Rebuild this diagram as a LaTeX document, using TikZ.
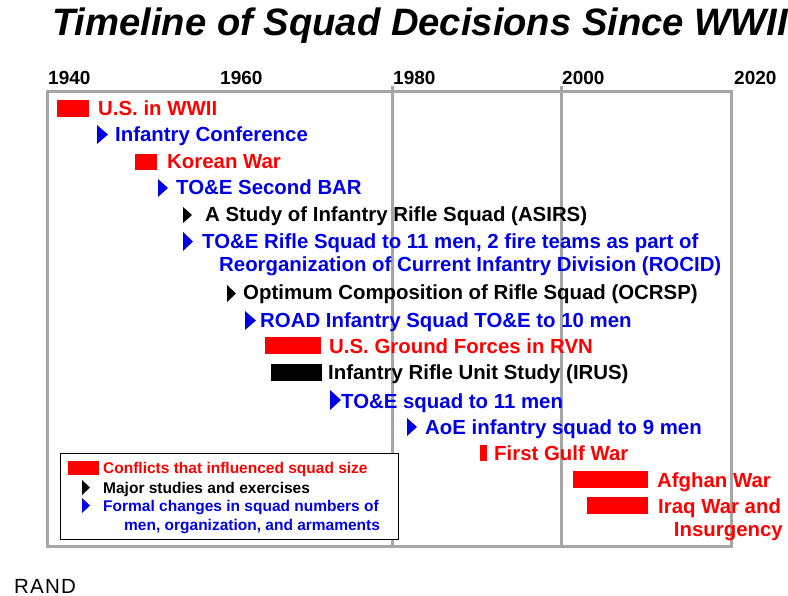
\documentclass[tikz,border=0pt]{standalone}
\usepackage{fontspec}
\setmainfont{Liberation Sans}
\definecolor{cred}{RGB}{255,0,0}
\definecolor{cblue}{RGB}{0,0,230}
\definecolor{cgray}{RGB}{166,166,166}
\newcommand{\tri}[5]{\fill[#5] (#1,#3) -- (#2,{(#3+#4)/2}) -- (#1,#4) -- cycle;}
\tikzset{
  item/.style={anchor=base west, inner sep=0pt, font=\fontsize{20.4}{23}\selectfont\bfseries},
  leg/.style={anchor=base west, inner sep=0pt, font=\fontsize{15.5}{19}\selectfont\bfseries},
  year/.style={anchor=base west, inner sep=0pt, font=\fontsize{19}{22}\selectfont\bfseries},
  framel/.style={draw=cgray, line width=3pt},
}
\begin{document}
\begin{tikzpicture}[x=1pt,y=-1pt]
\fill[white] (0,0) rectangle (788,596);
\useasboundingbox (0,0) rectangle (788,596);
% title
\node[anchor=base west, inner sep=0pt, font=\fontsize{38.2}{40}\selectfont\bfseries\itshape] (title) at (52,36) {Timeline of Squad Decisions Since WWII};
% frame
\draw[framel] (47,92) rectangle (731.5,546);
\draw[framel] (392,86) -- (392,546);
\draw[framel] (561.5,86) -- (561.5,546);
% years
\node[year] (y1940) at (48,85) {1940};
\node[year] (y1960) at (220,85) {1960};
\node[year] (y1980) at (393,85) {1980};
\node[year] (y2000) at (562,85) {2000};
\node[year] (y2020) at (734,85) {2020};
% rows
\fill[cred] (57,100) rectangle (89,117);
\node[item, text=cred] (r1) at (98,115.5) {U.S. in WWII};
\tri{97}{108}{125}{144}{cblue}
\node[item, text=cblue] (r2) at (115,142) {Infantry Conference};
\fill[cred] (135,154) rectangle (157,170);
\node[item, text=cred] (r3) at (167,169) {Korean War};
\tri{158}{168}{179}{197}{cblue}
\node[item, text=cblue] (r4) at (176,195) {TO\&E Second BAR};
\tri{183}{192}{207}{223}{black}
\node[item, text=black] (r5) at (205,222) {A Study of Infantry Rifle Squad (ASIRS)};
\tri{183}{193}{232}{251}{cblue}
\node[item, text=cblue] (r6a) at (202,249) {TO\&E Rifle Squad to 11 men, 2 fire teams as part of};
\node[item, text=cblue] (r6b) at (219,272) {Reorganization of Current Infantry Division (ROCID)};
\tri{227}{236}{285}{302}{black}
\node[item, text=black] (r7) at (243,300) {Optimum Composition of Rifle Squad (OCRSP)};
\tri{245}{256}{311}{330}{cblue}
\node[item, text=cblue] (r8) at (260,328) {ROAD Infantry Squad TO\&E to 10 men};
\fill[cred] (265,337) rectangle (321,354);
\node[item, text=cred] (r9) at (329,353) {U.S. Ground Forces in RVN};
\fill[black] (271,364) rectangle (322,381);
\node[item, text=black] (r10) at (328,380) {Infantry Rifle Unit Study (IRUS)};
\tri{330}{341}{390}{410}{cblue}
\node[item, text=cblue] (r11) at (341,408) {TO\&E squad to 11 men};
\tri{407}{417}{418}{436}{cblue}
\node[item, text=cblue] (r12) at (425,434) {AoE infantry squad to 9 men};
\fill[cred] (480,445) rectangle (487,461);
\node[item, text=cred] (r13) at (494,460) {First Gulf War};
\fill[cred] (573,471) rectangle (648,488);
\node[item, text=cred] (r14) at (657,487) {Afghan War};
\fill[cred] (587,497) rectangle (648,514);
\node[item, text=cred] (r15a) at (658,513) {Iraq War and};
\node[item, text=cred, anchor=base east] (r15b) at (783,536) {Insurgency};
% legend
\draw[black, line width=1pt, fill=white] (60,453) rectangle (398,539);
\fill[cred] (68,461) rectangle (99,475);
\node[leg, text=cred] (l1) at (103,473.5) {Conflicts that influenced squad size};
\tri{82}{90}{480}{495}{black}
\node[leg, text=black] (l2) at (103,493.5) {Major studies and exercises};
\tri{82}{90}{498}{513}{cblue}
\node[leg, text=cblue] (l3a) at (103,511.5) {Formal changes in squad numbers of};
\node[leg, text=cblue] (l3b) at (124,530.5) {men, organization, and armaments};
% RAND
\node[anchor=base west, inner sep=0pt, font=\fontsize{20.5}{22}\selectfont\addfontfeatures{LetterSpace=6}] (rand) at (14,593) {RAND};
\end{tikzpicture}
\end{document}
